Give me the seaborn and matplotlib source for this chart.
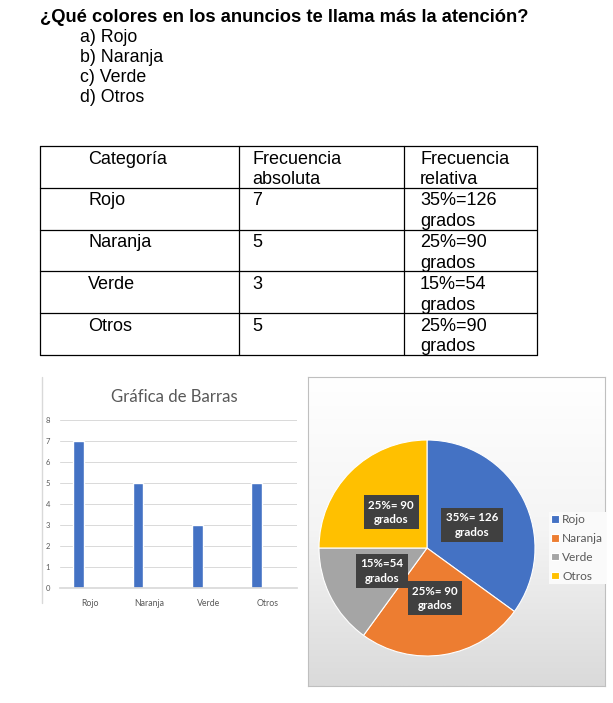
import numpy as np
import pandas as pd
import matplotlib
matplotlib.use("Agg")
import matplotlib.pyplot as plt
from matplotlib.colors import LinearSegmentedColormap
import seaborn as sns

QUESTION = "¿Qué colores en los anuncios te llama más la atención?"
OPTIONS = ["a) Rojo", "b) Naranja", "c) Verde", "d) Otros"]
CATEGORIES = ["Rojo", "Naranja", "Verde", "Otros"]
ABS_FREQ = [7, 5, 3, 5]
TABLE_HEADER = ["Categoría", "Frecuencia\nabsoluta", "Frecuencia\nrelativa"]
REL_FREQ_TEXT = ["35%=126\ngrados", "25%=90\ngrados", "15%=54\ngrados", "25%=90\ngrados"]
PIE_LABELS = ["35%= 126\ngrados", "25%= 90\ngrados", "15%=54\ngrados", "25%= 90\ngrados"]
COLORS = ["#4472C4", "#ED7D31", "#A5A5A5", "#FFC000"]
Y_TICKS = list(range(0, 9))

W, H = 613, 703
CHART_FONT = ["Lato", "DejaVu Sans"]
GREY_TXT = "#595959"

sns.set_theme(style="white")
plt.rcParams["font.family"] = ["Liberation Sans", "DejaVu Sans"]
plt.rcParams["text.color"] = "black"

fig = plt.figure(figsize=(W / 100, H / 100), dpi=100)


def px_axes(x0, y0, x1, y1):
    # axes placed with pixel coordinates measured from the top-left corner
    return fig.add_axes([x0 / W, 1 - y1 / H, (x1 - x0) / W, (y1 - y0) / H])


# document layer: question, options and table
doc = px_axes(0, 0, W, H)
doc.set_xlim(0, W)
doc.set_ylim(H, 0)
doc.axis("off")

doc.text(40, 17, QUESTION, fontsize=13.2, fontweight="bold", va="center")
for i, opt in enumerate(OPTIONS):
    doc.text(80, 37 + i * 20.3, opt, fontsize=12.8, va="center")

col_x = [40, 239, 404, 537]
text_x = [88, 252, 420]
ty0, row_h = 146, 41.8
rows = [TABLE_HEADER] + [[c, str(v), r] for c, v, r in zip(CATEGORIES, ABS_FREQ, REL_FREQ_TEXT)]
ty1 = ty0 + row_h * len(rows)
for k in range(len(rows) + 1):
    y = ty0 + k * row_h
    doc.plot([col_x[0], col_x[-1]], [y, y], color="black", lw=0.9)
for x in col_x:
    doc.plot([x, x], [ty0, ty1], color="black", lw=0.9)
for k, row in enumerate(rows):
    for x, txt in zip(text_x, row):
        doc.text(x, ty0 + k * row_h + 4.5, txt, fontsize=13, va="top", linespacing=1.28)

# bar chart
doc.plot([42, 42], [377, 603], color="#d9d9d9", lw=1)
doc.text(174, 397, "Gráfica de Barras", fontsize=12.1, color=GREY_TXT, ha="center", va="center", family=CHART_FONT)

bar_df = pd.DataFrame({"Categoría": CATEGORIES, "Frecuencia": ABS_FREQ, "Serie": "Frecuencia absoluta"})
axb = px_axes(60, 420, 297, 588)
sns.barplot(data=bar_df, x="Categoría", y="Frecuencia", hue="Serie",
            hue_order=["Frecuencia absoluta", "Serie 2", "Serie 3"],
            palette=[COLORS[0]] * 3, dodge=True, width=0.55, saturation=1,
            legend=False, ax=axb)
axb.set_ylim(0, 8)
axb.set_xlim(-0.5, 3.5)
axb.set_yticks(Y_TICKS)
axb.yaxis.grid(True, color="#d9d9d9", lw=0.7)
axb.set_axisbelow(True)
for s in ["top", "right", "left"]:
    axb.spines[s].set_visible(False)
axb.spines["bottom"].set_color("#d9d9d9")
axb.set_xlabel("")
axb.set_ylabel("")
axb.tick_params(axis="y", length=0, pad=7, labelsize=5.5, labelcolor=GREY_TXT)
axb.tick_params(axis="x", length=0, pad=8, labelsize=6.3, labelcolor=GREY_TXT)
for lab in axb.get_xticklabels() + axb.get_yticklabels():
    lab.set_family(CHART_FONT)

# pie chart box with gradient background
bg = px_axes(308, 377, 605, 686)
grad_cmap = LinearSegmentedColormap.from_list("bg", ["#ffffff", "#f4f4f4", "#dadada"])
bg.imshow(np.linspace(0, 1, 256).reshape(-1, 1), aspect="auto", cmap=grad_cmap, extent=[0, 1, 0, 1], origin="upper")
bg.set_xticks([])
bg.set_yticks([])
for s in bg.spines.values():
    s.set_color("#bfbfbf")
    s.set_linewidth(0.8)

doc.text(455, 398, "Gráfica Circular", fontsize=14, fontweight="bold", color=GREY_TXT,
         ha="center", va="center", family=CHART_FONT, zorder=5)

axp = px_axes(427 - 108, 548 - 108, 427 + 108, 548 + 108)
axp.patch.set_alpha(0)
wedges, texts = axp.pie(ABS_FREQ, labels=PIE_LABELS, colors=COLORS, startangle=90, counterclock=False,
                        labeldistance=0.47, radius=1, wedgeprops=dict(edgecolor="white", linewidth=0.8))
for t in texts:
    t.set_ha("center")
    t.set_va("center")
    t.set_color("white")
    t.set_fontweight("bold")
    t.set_fontsize(8.3)
    t.set_family(CHART_FONT)
    t.set_linespacing(1.35)
    t.set_bbox(dict(boxstyle="square,pad=0.4", fc="#404040", ec="none"))
axp.set_xlim(-1, 1)
axp.set_ylim(-1, 1)
axp.axis("off")

leg = axp.legend(wedges, CATEGORIES, loc="center left", bbox_to_anchor=(549 / W, 1 - 548 / H),
                 bbox_transform=fig.transFigure, frameon=True, fancybox=False, framealpha=1,
                 facecolor="#fafafa", edgecolor="none", handlelength=0.6, handleheight=0.6,
                 handletextpad=0.3, labelspacing=0.65, borderpad=0.2, borderaxespad=0,
                 prop=dict(family=CHART_FONT, size=8.6))
for t in leg.get_texts():
    t.set_color(GREY_TXT)

fig.savefig("out.png", dpi=100, facecolor="white")
